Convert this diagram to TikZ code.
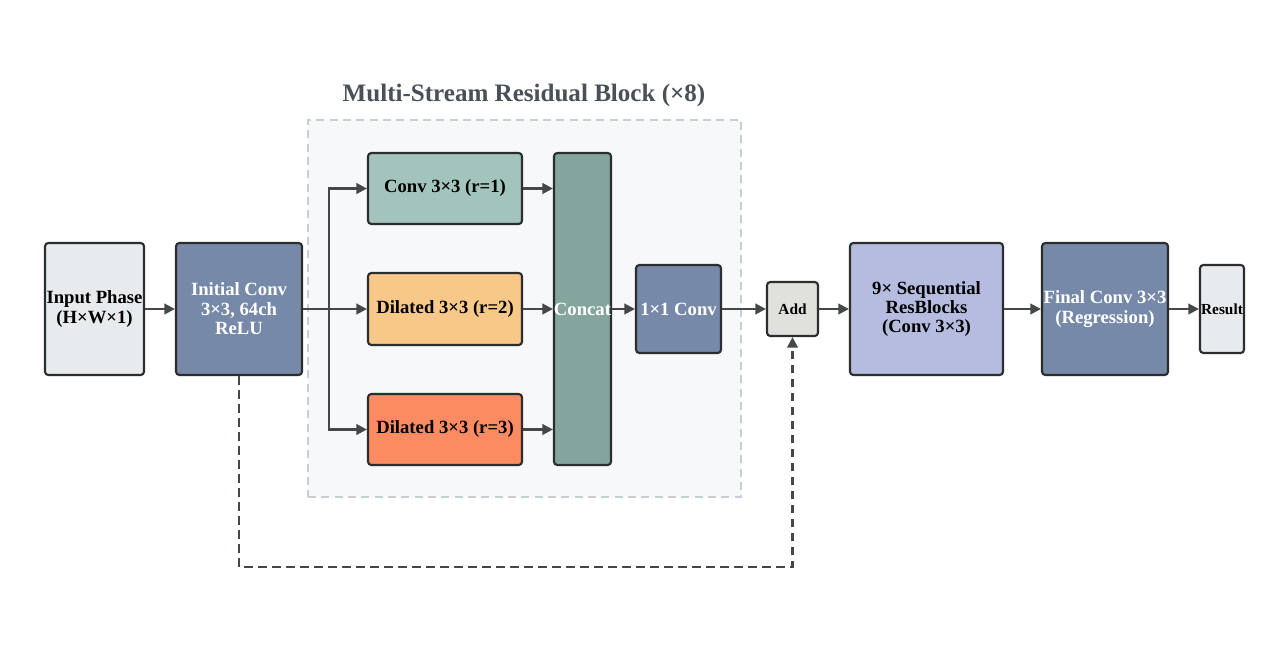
\documentclass[tikz,border=0pt]{standalone}
\usepackage{fontspec}
\setmainfont{Liberation Serif}
\usetikzlibrary{arrows.meta}
\definecolor{edgec}{HTML}{2B2D2F}
\definecolor{arrc}{HTML}{45484B}
\definecolor{lightg}{HTML}{E8EBEE}
\definecolor{slate}{HTML}{7689A8}
\definecolor{sage}{HTML}{A3C4BC}
\definecolor{sand}{HTML}{F8C888}
\definecolor{coral}{HTML}{FC8B62}
\definecolor{concatc}{HTML}{84A59D}
\definecolor{addc}{HTML}{E0E0DC}
\definecolor{lav}{HTML}{B5BCDF}
\definecolor{groupfill}{HTML}{F7F8FA}
\definecolor{groupedge}{HTML}{C9CED4}
\definecolor{titlec}{HTML}{4A5058}
\def\u{0.75pt}
\tikzset{
  box/.style={draw=edgec, line width=1.6pt, rounded corners=2.5pt, inner sep=0pt,
    align=center, font=\fontsize{14}{14.6}\selectfont\bfseries, text=black},
  wbox/.style={box, text=white},
  arr/.style={draw=arrc, line width=1.7pt, -{Triangle[length=8pt,width=8pt]}},
  ln/.style={draw=arrc, line width=1.7pt},
  skip/.style={arr, dash pattern=on 6.5pt off 4pt},
}
\begin{document}
\begin{tikzpicture}[x=0.75pt,y=-0.75pt]
\useasboundingbox[fill=white] (0,0) rectangle (1262,670);
% group
\node[draw=groupedge, fill=groupfill, line width=1.2pt, dash pattern=on 6pt off 4pt,
  minimum width=433*\u, minimum height=377*\u, inner sep=0pt] (grp) at (524.5,308.5) {};
\node[font=\fontsize{18.8}{20}\selectfont\bfseries, text=titlec] (title) at (524,95) {Multi-Stream Residual Block (×8)};
% nodes
\node[box, fill=lightg, minimum width=99*\u, minimum height=132*\u] (inp) at (94.5,309) {Input Phase\\(H×W×1)};
\node[wbox, fill=slate, minimum width=126*\u, minimum height=132*\u] (init) at (239,309) {Initial Conv\\3×3, 64ch\\ReLU};
\node[box, fill=sage, minimum width=154*\u, minimum height=71*\u] (b1) at (445,188.5) {Conv 3×3 (r=1)};
\node[box, fill=sand, minimum width=154*\u, minimum height=72*\u] (b2) at (445,309) {Dilated 3×3 (r=2)};
\node[box, fill=coral, minimum width=154*\u, minimum height=71*\u] (b3) at (445,429.5) {Dilated 3×3 (r=3)};
\node[wbox, fill=concatc, minimum width=57*\u, minimum height=312*\u] (cat) at (582.5,309) {Concat};
\node[wbox, fill=slate, minimum width=85*\u, minimum height=88*\u] (c11) at (678.5,309) {1×1 Conv};
\node[box, fill=addc, minimum width=51*\u, minimum height=54*\u, font=\fontsize{11.5}{13}\selectfont\bfseries] (add) at (792.5,309) {Add};
\node[box, fill=lav, minimum width=153*\u, minimum height=132*\u] (seq) at (926.5,309) {9× Sequential\\ResBlocks\\(Conv 3×3)};
\node[wbox, fill=slate, minimum width=126*\u, minimum height=132*\u] (fin) at (1105,309) {Final Conv 3×3\\(Regression)};
\node[box, fill=lightg, minimum width=44*\u, minimum height=88*\u, font=\fontsize{11.5}{13}\selectfont\bfseries] (res) at (1222,309) {Result};
% connectors
\draw[arr] (inp.east) -- (init.west);
\coordinate (split) at (329,309);
\draw[ln] (init.east) -- (split);
\draw[arr] (split) |- (b1.west);
\draw[arr] (split) -- (b2.west);
\draw[arr] (split) |- (b3.west);
\draw[arr] (b1.east) -- (b1.east -| cat.west);
\draw[arr] (b2.east) -- (cat.west);
\draw[arr] (b3.east) -- (b3.east -| cat.west);
\draw[arr] (cat.east) -- (c11.west);
\draw[arr] (c11.east) -- (add.west);
\draw[arr] (add.east) -- (seq.west);
\draw[arr] (seq.east) -- (fin.west);
\draw[arr] (fin.east) -- (res.west);
\coordinate (sk) at (239,567);
\draw[skip] (init.south) -- (sk) -| (add.south);
\end{tikzpicture}
\end{document}
